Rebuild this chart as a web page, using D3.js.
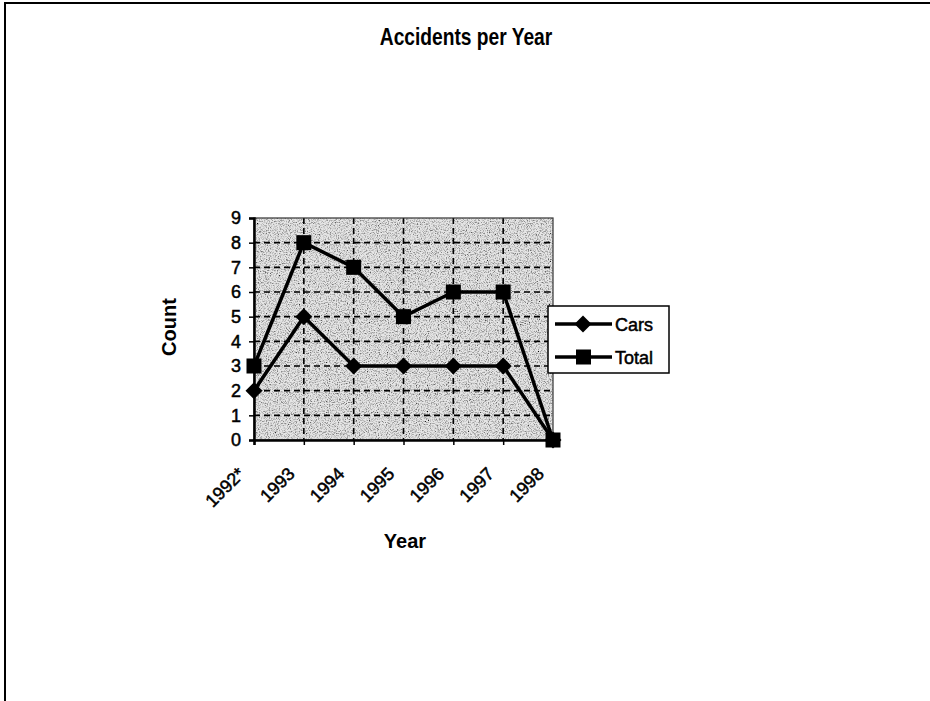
<!DOCTYPE html>
<html>
<head>
<meta charset="utf-8">
<script src="https://cdn.jsdelivr.net/npm/d3@7"></script>
<style>
  body { margin: 0; background: #fff; }
  text { font-family: "Liberation Sans", Arial, sans-serif; }
</style>
</head>
<body>
<svg id="chart"></svg>
<script>
const years = ["1992*", "1993", "1994", "1995", "1996", "1997", "1998"];
const cars = [2, 5, 3, 3, 3, 3, 0];
const total = [3, 8, 7, 5, 6, 6, 0];
const yTicks = [0, 1, 2, 3, 4, 5, 6, 7, 8, 9];

window.onload = () => {
    let svgWidth = 930, svgHeight = 701;
    let margin = { top: 218, right: 377, bottom: 261, left: 254 };
    let width = svgWidth - margin.left - margin.right;
    let height = svgHeight - margin.top - margin.bottom;

    let svg = d3.select('#chart')
        .attr("width", svgWidth)
        .attr("height", svgHeight);

    // scanned page border
    svg.append("path")
        .attr("d", "M5,701 V3 H930")
        .attr("fill", "none")
        .attr("stroke", "#000")
        .attr("stroke-width", 2);

    // speckled plot background
    let defs = svg.append("defs");
    let f = defs.append("filter").attr("id", "speckle")
        .attr("x", 0).attr("y", 0).attr("width", 1).attr("height", 1);
    f.append("feTurbulence")
        .attr("type", "fractalNoise")
        .attr("baseFrequency", 0.9)
        .attr("numOctaves", 2)
        .attr("seed", 3)
        .attr("result", "noise");
    f.append("feColorMatrix")
        .attr("in", "noise")
        .attr("type", "matrix")
        .attr("values", "0 0 0 0 0  0 0 0 0 0  0 0 0 0 0  0 0 0 -2.2 1.25")
        .attr("result", "dots");
    f.append("feFlood").attr("flood-color", "#e6e6e6").attr("result", "bg");
    f.append("feComposite").attr("in", "dots").attr("in2", "bg").attr("operator", "over");

    let g = svg.append("g")
        .attr("transform", "translate(" + margin.left + "," + margin.top + ")");

    let x = d3.scalePoint().domain(years).range([0, width]);
    let y = d3.scaleLinear().domain([0, 9]).range([height, 0]);

    g.append("rect")
        .attr("width", width)
        .attr("height", height)
        .attr("fill", "#dcdcdc")
        .attr("filter", "url(#speckle)");

    // gridlines
    g.append("g")
        .selectAll("line")
        .data(yTicks.slice(1, -1))
        .join("line")
        .attr("x1", 0).attr("x2", width)
        .attr("y1", d => y(d)).attr("y2", d => y(d))
        .attr("stroke", "#000")
        .attr("stroke-width", 1.6)
        .attr("stroke-dasharray", "6,4");

    g.append("g")
        .selectAll("line")
        .data(years.slice(1, -1))
        .join("line")
        .attr("x1", d => x(d)).attr("x2", d => x(d))
        .attr("y1", 0).attr("y2", height)
        .attr("stroke", "#000")
        .attr("stroke-width", 1.6)
        .attr("stroke-dasharray", "6,4");

    // plot frame
    g.append("rect")
        .attr("width", width)
        .attr("height", height)
        .attr("fill", "none")
        .attr("stroke", "#333")
        .attr("stroke-width", 1.2);

    // axes
    let yAxis = g.append("g")
        .call(d3.axisLeft(y).tickValues(yTicks).tickSize(5).tickPadding(8).tickFormat(d3.format("d")));
    yAxis.select(".domain").attr("stroke-width", 2.5);
    yAxis.selectAll(".tick line").attr("stroke-width", 1.5);
    yAxis.selectAll("text")
        .attr("font-size", 18)
        .attr("font-family", "Liberation Sans, Arial, sans-serif")
        .attr("fill", "#000")
        .attr("stroke", "#000")
        .attr("stroke-width", 0.5);

    let xAxis = g.append("g")
        .attr("transform", "translate(0," + height + ")")
        .call(d3.axisBottom(x).tickSize(5).tickFormat(""));
    xAxis.select(".domain").attr("stroke-width", 2.5);
    xAxis.selectAll(".tick line").attr("stroke-width", 1.5);

    g.append("g")
        .selectAll("text")
        .data(years)
        .join("text")
        .attr("transform", d => "translate(" + (x(d) - 8) + "," + (height + 35) + ") rotate(-45)")
        .attr("text-anchor", "end")
        .attr("font-size", 18)
        .attr("fill", "#000")
        .attr("stroke", "#000")
        .attr("stroke-width", 0.5)
        .text(d => d);

    // series
    let line = d3.line()
        .x((d, i) => x(years[i]))
        .y(d => y(d));

    [total, cars].forEach(s => {
        g.append("path")
            .datum(s)
            .attr("fill", "none")
            .attr("stroke", "#000")
            .attr("stroke-width", 3.5)
            .attr("stroke-linejoin", "round")
            .attr("d", line);
    });

    g.append("g")
        .selectAll("path")
        .data(cars)
        .join("path")
        .attr("transform", (d, i) => "translate(" + x(years[i]) + "," + y(d) + ")")
        .attr("d", "M0,-8.5L8.5,0L0,8.5L-8.5,0Z")
        .attr("fill", "#000");

    g.append("g")
        .selectAll("rect")
        .data(total)
        .join("rect")
        .attr("x", (d, i) => x(years[i]) - 7.5)
        .attr("y", d => y(d) - 7.5)
        .attr("width", 15)
        .attr("height", 15)
        .attr("fill", "#000");

    // legend
    let legend = svg.append("g").attr("transform", "translate(548,306)");
    legend.append("rect")
        .attr("width", 121).attr("height", 67)
        .attr("fill", "#fff")
        .attr("stroke", "#000")
        .attr("stroke-width", 1.5);
    let rows = [{ name: "Cars", shape: "diamond", y: 18 }, { name: "Total", shape: "square", y: 51 }];
    rows.forEach(r => {
        legend.append("line")
            .attr("x1", 7).attr("x2", 64)
            .attr("y1", r.y).attr("y2", r.y)
            .attr("stroke", "#000").attr("stroke-width", 3.5);
        if (r.shape == "diamond") {
            legend.append("path")
                .attr("transform", "translate(35," + r.y + ")")
                .attr("d", "M0,-8.5L8.5,0L0,8.5L-8.5,0Z")
                .attr("fill", "#000");
        } else {
            legend.append("rect")
                .attr("x", 28).attr("y", r.y - 7.5)
                .attr("width", 15).attr("height", 15)
                .attr("fill", "#000");
        }
        legend.append("text")
            .attr("x", 67).attr("y", r.y + 6.5)
            .attr("font-size", 18)
            .attr("fill", "#000")
            .attr("stroke", "#000")
            .attr("stroke-width", 0.5)
            .text(r.name);
    });

    // titles (the scan uses a condensed bold face, so squeeze horizontally)
    svg.append("text")
        .attr("transform", "translate(466,45) scale(0.8,1)")
        .attr("text-anchor", "middle")
        .attr("font-size", 24)
        .attr("font-weight", "bold")
        .text("Accidents per Year");

    svg.append("text")
        .attr("transform", "translate(176,327) rotate(-90)")
        .attr("text-anchor", "middle")
        .attr("font-size", 20)
        .attr("font-weight", "bold")
        .text("Count");

    svg.append("text")
        .attr("x", 405).attr("y", 548)
        .attr("text-anchor", "middle")
        .attr("font-size", 20)
        .attr("font-weight", "bold")
        .text("Year");
}
</script>
</body>
</html>
